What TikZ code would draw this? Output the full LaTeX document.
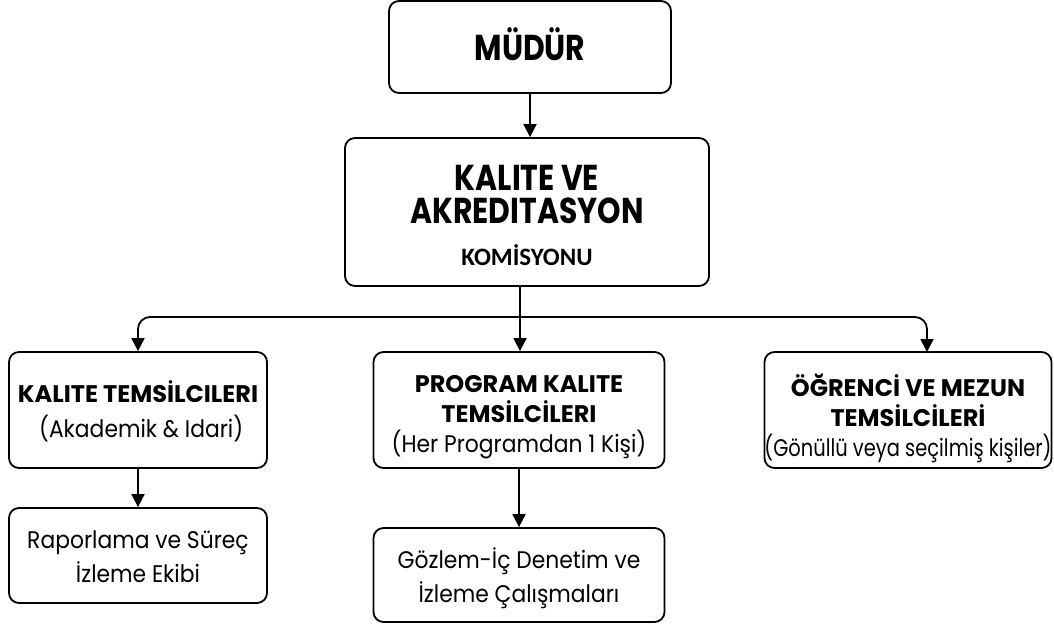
\documentclass[tikz,border=0pt]{standalone}
\usepackage{fontspec}
\setmainfont{Poppins}
\newfontfamily\headfont{Poppins}[FakeStretch=0.83]
\newfontfamily\bodyfont{Poppins}[FakeStretch=0.91]
\newfontfamily\narrowfont{Poppins}[FakeStretch=0.81]
\newfontfamily\komfont{Carlito}
\usetikzlibrary{arrows.meta}
\tikzset{
  box/.style={draw, line width=1.8pt, rounded corners=10pt, align=center, inner sep=0pt, text depth=0pt},
  link/.style={line width=1.8pt, -{Triangle[width=13pt,length=13pt]}},
}
\begin{document}
\begin{tikzpicture}[x=1pt,y=-1pt]
      \useasboundingbox (0,0) rectangle (1054,625);
      \draw
        (530,47) node[box, minimum width=282pt, minimum height=92pt, text height=26pt,
          font=\headfont\fontsize{36}{33}\selectfont\bfseries] (mudur){MÜDÜR}
        (527,212) node[box, minimum width=364pt, minimum height=148pt, text height=106pt,
          font=\headfont\fontsize{36}{33}\selectfont\bfseries] (kalite){KALITE VE\\AKREDITASYON\\[9pt]{\komfont\fontsize{25}{25}\selectfont KOMİSYONU}}
        (138,410) node[box, minimum width=258pt, minimum height=116pt, text height=54pt,
          font=\fontsize{24}{35}\selectfont] (temsil){{\bfseries KALITE TEMSİLCILERI}\\\ {\bodyfont (Akademik \& Idari)}}
        (519,410) node[box, minimum width=291pt, minimum height=116pt, text height=84pt,
          font=\fontsize{24}{30}\selectfont] (program){{\bfseries PROGRAM KALITE}\\{\bfseries TEMSİLCİLERI}\\{\bodyfont (Her Programdan 1 Kişi)}}
        (908,410) node[box, minimum width=280pt, minimum height=116pt, text height=92pt,
          font=\fontsize{24}{30}\selectfont] (ogrenci){{\bfseries ÖĞRENCİ VE MEZUN}\\{\bfseries TEMSİLCİLERİ}\\{\narrowfont (Gönüllü veya seçilmiş kişiler)}}
        (138,555.5) node[box, minimum width=258pt, minimum height=95pt, text height=53pt,
          font=\bodyfont\fontsize{24}{34}\selectfont] (rapor){Raporlama ve Süreç\\İzleme Ekibi}
        (519,575) node[box, minimum width=291pt, minimum height=94pt, text height=54pt,
          font=\bodyfont\fontsize{24}{34}\selectfont] (gozlem){Gözlem-İç Denetim ve\\İzleme Çalışmaları};
      \coordinate (split) at (520,317);
      \coordinate (ogrin) at (927,352);
      \begin{scope}[link]
        \draw (mudur) to (mudur |- kalite.north);
        \draw[-] (kalite.south -| split) to (split);
        \draw[rounded corners=12pt] (split) -| (temsil.north);
        \draw (split) to (split |- program.north);
        \draw[rounded corners=12pt] (split) -| (ogrin);
        \draw (temsil) to (rapor);
        \draw (program) to (gozlem);
      \end{scope}
    \end{tikzpicture}
\end{document}
